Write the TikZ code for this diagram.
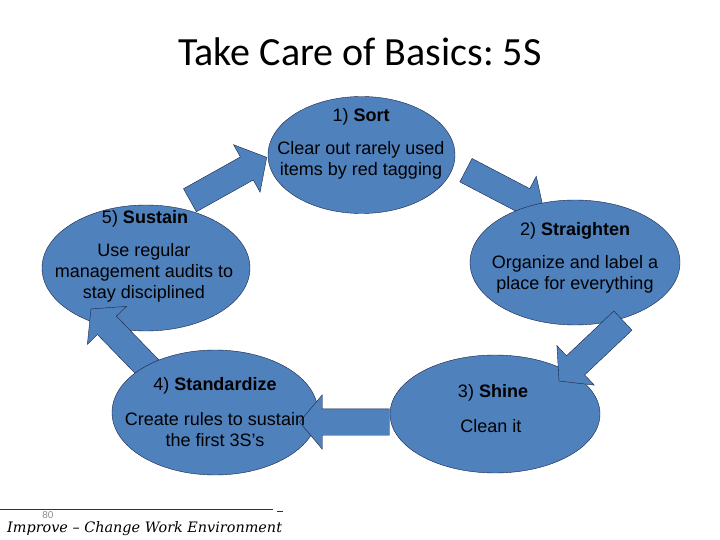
\documentclass[tikz,border=0pt]{standalone}
\usepackage{fontspec}
\setmainfont{Liberation Sans}
\newfontfamily\titlefont{Carlito}
\newfontfamily\footfont{DejaVu Serif}
\usepackage{tikz}
\usetikzlibrary{shapes.geometric,shapes.arrows}
\definecolor{fivesblue}{RGB}{79,129,189}
\definecolor{fivesedge}{RGB}{25,35,70}
\frenchspacing

\begin{document}
\begin{tikzpicture}[x=1pt, y=-1pt,
  stage/.style={ellipse, draw=fivesedge, fill=fivesblue, inner sep=0pt},
  fatarrow/.style={single arrow, draw=fivesedge, fill=fivesblue,
                   inner xsep=0pt, inner ysep=13pt, single arrow head extend=14pt,
                   single arrow head indent=0pt, single arrow tip angle=100,
                   minimum height=#1},
  fatarrow/.default=88pt,
  hdr/.style={font=\fontsize{18}{21}\selectfont, inner sep=0pt},
  desc/.style={font=\fontsize{18}{21}\selectfont, align=center, inner sep=0pt},
]
  \useasboundingbox (0,0) rectangle (720,540);

  % ---- Title ----
  \node[font=\titlefont\fontsize{40}{48}\selectfont] (title) at (360,52) {Take Care of Basics: 5S};

  % ---- Stages and arrows (stacking order matters) ----
  \node[stage, minimum width=208pt, minimum height=126pt] (sustain) at (146,268) {};
  \node[fatarrow, rotate=29.2] (a1) at (223.5,181.5) {};
  \node[fatarrow, rotate=134.2] (a5) at (125.5,344.5) {};
  \node[stage, minimum width=187pt, minimum height=117pt] (sort) at (361.5,155) {};
  \node[fatarrow, rotate=-27.6] (a2) at (500,188) {};
  \node[stage, minimum width=210pt, minimum height=125pt] (straighten) at (575,262.5) {};
  \node[stage, minimum width=206pt, minimum height=125pt] (standardize) at (215,412.5) {};
  \node[fatarrow=90pt, rotate=180] (a4) at (350,422) {};
  \node[stage, minimum width=210pt, minimum height=118pt] (shine) at (495,414) {};
  \node[fatarrow, rotate=-136.6] (a3) at (595,347) {};

  % ---- Texts ----
  \node[hdr] (sortH) at (361,117) {1) \textbf{Sort}};
  \node[desc] (sortD) at (361,160.5) {Clear out rarely used\\items by red tagging};
  \node[hdr] (straightenH) at (575,231) {2) \textbf{Straighten}};
  \node[desc] (straightenD) at (575,274.5) {Organize and label a\\place for everything};
  \node[hdr] (shineH) at (493,393) {3) \textbf{Shine}};
  \node[desc] (shineD) at (491,426) {Clean it};
  \node[hdr] (standardizeH) at (215,386) {4) \textbf{Standardize}};
  \node[desc] (standardizeD) at (215,429.5) {Create rules to sustain\\the first 3S’s};
  \node[hdr] (sustainH) at (145,219) {5) \textbf{Sustain}};
  \node[desc] (sustainD) at (144,273) {Use regular\\management audits to\\stay disciplined};

  % ---- Footer ----
  \draw[black!80] (0,509.5) -- (273,509.5);
  \draw[black!80] (277,511) -- (283,511);
  \node[font=\fontsize{10}{12}\selectfont, text=black!45, inner sep=0pt] (pageno) at (48,515) {80};
  \node[font=\footfont\itshape\fontsize{14.4}{17}\selectfont, anchor=base west, inner sep=0pt]
    (footer) at (7,532) {Improve – Change Work Environment};
\end{tikzpicture}
\end{document}
